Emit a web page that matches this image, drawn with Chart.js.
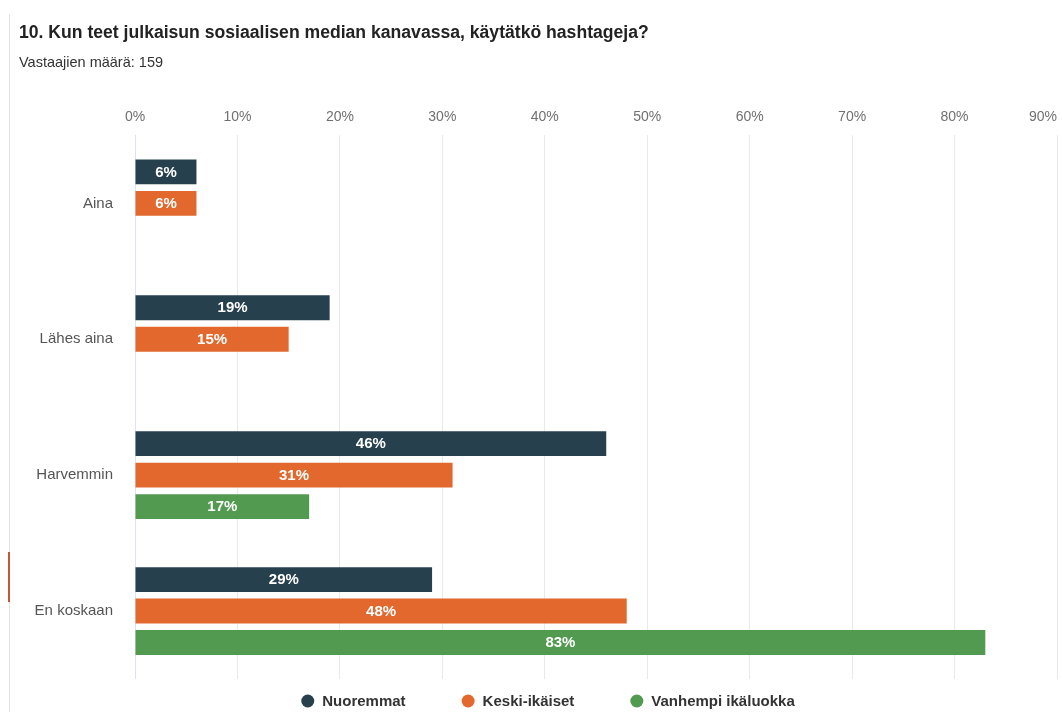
<!DOCTYPE html>
<html lang="fi">
<head>
<meta charset="utf-8">
<title>Hashtagien käyttö</title>
<script src="https://cdn.jsdelivr.net/npm/chart.js@4/dist/chart.umd.min.js"></script>
<style>
  html, body { margin: 0; padding: 0; background: #fff; }
  #wrap { position: relative; width: 1062px; height: 712px; overflow: hidden; }
  #frame { position: absolute; left: 9px; top: 14px; bottom: 0; width: 1px; background: #e2e2e2; }
  #mark { position: absolute; left: 8px; top: 552px; height: 50px; width: 2px; background: #c4582f; }
  canvas { position: absolute; left: 0; top: 0; }
</style>
</head>
<body>
<div id="wrap">
  <canvas id="chart" width="1062" height="712"></canvas>
  <div id="frame"></div>
  <div id="mark"></div>
</div>
<script>
// Vastausvaihtoehdot ja ikäryhmien osuudet (%)
const categories = ['Aina', 'Lähes aina', 'Harvemmin', 'En koskaan'];
const groupNames = ['Nuoremmat', 'Keski-ikäiset', 'Vanhempi ikäluokka'];
const nuoremmat = [6, 19, 46, 29];
const keskiIkaiset = [6, 15, 31, 48];
const vanhempi = [null, null, 17, 83];
const tickValues = [0, 10, 20, 30, 40, 50, 60, 70, 80, 90];

const FONT = "'Liberation Sans', Arial, Helvetica, sans-serif";
Chart.defaults.font.family = FONT;

const colors = ['#26404d', '#e2682e', '#529a4f'];

// Prosenttiluvut palkkien keskelle
const barValueLabels = {
  id: 'barValueLabels',
  afterDatasetsDraw(chart) {
    const ctx = chart.ctx;
    ctx.save();
    ctx.font = 'bold 15px ' + FONT;
    ctx.fillStyle = '#ffffff';
    ctx.textAlign = 'center';
    ctx.textBaseline = 'middle';
    chart.data.datasets.forEach((ds, di) => {
      const meta = chart.getDatasetMeta(di);
      meta.data.forEach((bar, i) => {
        const v = ds.data[i];
        if (v === null || v === undefined) return;
        const cx = (bar.x + bar.base) / 2;
        ctx.fillText(v + '%', cx, bar.y + 0.5);
      });
    });
    ctx.restore();
  }
};

// Viimeinen akselin nimike tasataan oikeaan reunaan, jotta se mahtuu kuvaan
const lastTickInside = {
  id: 'lastTickInside',
  beforeDraw(chart) {
    const sc = chart.scales.x;
    const items = sc.getLabelItems(chart.chartArea);
    const last = items[items.length - 1];
    if (last && last.options) {
      last.options.textAlign = 'right';
      last.options.translation[0] = sc.right;
    }
  }
};

// Selite kaavion alle: pallo + lihavoitu nimi
const bottomLegend = {
  id: 'bottomLegend',
  afterDraw(chart, args, opts) {
    const ctx = chart.ctx;
    const ds = chart.data.datasets;
    ctx.save();
    ctx.font = 'bold 15px ' + FONT;
    const r = opts.radius, gapText = opts.gapText, gapItem = opts.gapItem;
    const widths = ds.map(d => r * 2 + gapText + ctx.measureText(d.label).width);
    const total = widths.reduce((a, b) => a + b, 0) + gapItem * (ds.length - 1);
    let x = opts.centerX - total / 2;
    const y = chart.chartArea.bottom + opts.offsetY;
    ds.forEach((d, i) => {
      ctx.beginPath();
      ctx.arc(x + r, y, r, 0, Math.PI * 2);
      ctx.fillStyle = d.backgroundColor;
      ctx.fill();
      ctx.fillStyle = '#333333';
      ctx.textAlign = 'left';
      ctx.textBaseline = 'middle';
      ctx.fillText(d.label, x + r * 2 + gapText, y + 0.5);
      x += widths[i] + gapItem;
    });
    ctx.restore();
  }
};

const seriesValues = [nuoremmat, keskiIkaiset, vanhempi];

new Chart(document.getElementById('chart'), {
  type: 'bar',
  data: {
    labels: categories,
    datasets: seriesValues.map((vals, i) => ({
      label: groupNames[i],
      data: vals,
      backgroundColor: colors[i],
      borderWidth: 0,
      barPercentage: 0.79,
      categoryPercentage: 0.695
    }))
  },
  options: {
    indexAxis: 'y',
    responsive: false,
    animation: false,
    layout: { padding: { left: 19, right: 5, top: 0, bottom: 33 } },
    scales: {
      x: {
        position: 'top',
        min: 0,
        max: 90,
        afterBuildTicks(scale) {
          scale.ticks = tickValues.map(v => ({ value: v }));
        },
        afterFit(scale) {
          scale.paddingRight = 0;
        },
        ticks: {
          callback: v => v + '%',
          color: '#707070',
          font: { size: 14 },
          padding: 10
        },
        grid: {
          drawTicks: false,
          color: ctx => (ctx.tick && ctx.tick.value === 0) ? '#dde2ec' : '#e9e9e9',
          lineWidth: 1
        },
        border: { display: false }
      },
      y: {
        afterFit(scale) {
          scale.width = 116;
        },
        ticks: {
          color: '#555555',
          font: { size: 15 },
          padding: 22
        },
        grid: { display: false, drawTicks: false },
        border: { display: false }
      }
    },
    plugins: {
      legend: { display: false },
      tooltip: { enabled: false },
      title: {
        display: true,
        text: '10. Kun teet julkaisun sosiaalisen median kanavassa, käytätkö hashtageja?',
        align: 'start',
        color: '#222222',
        font: { size: 17.6, weight: 'bold' },
        padding: { top: 22.5, bottom: 10.8 }
      },
      subtitle: {
        display: true,
        text: 'Vastaajien määrä: 159',
        align: 'start',
        color: '#333333',
        font: { size: 14.5 },
        padding: { top: 0, bottom: 26.8 }
      },
      bottomLegend: { radius: 6.5, gapText: 8, gapItem: 56, centerX: 548, offsetY: 22 }
    }
  },
  plugins: [barValueLabels, lastTickInside, bottomLegend]
});
</script>
</body>
</html>
